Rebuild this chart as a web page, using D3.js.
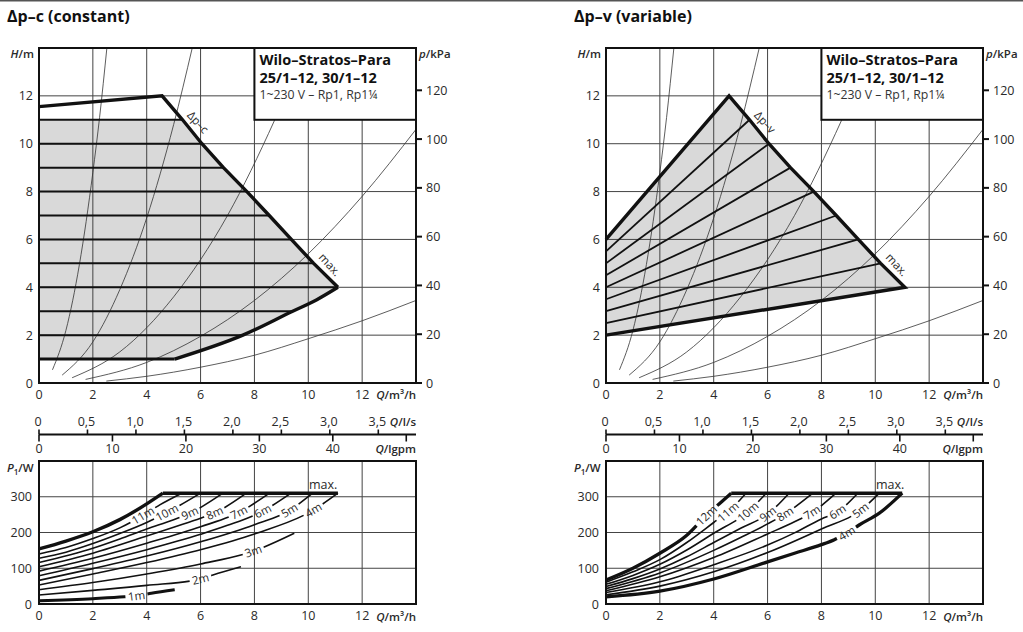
<!DOCTYPE html>
<html>
<head>
<meta charset="utf-8">
<script src="https://cdn.jsdelivr.net/npm/d3@7"></script>
<style>
  body { margin: 0; background: #fff; }
  svg { display: block; font-family: "Open Sans", sans-serif; }
</style>
</head>
<body>
<svg id="chart" width="1023" height="632"></svg>
<script>
/******************** DATA ********************/
var panelTitles = ["Δp–c (constant)", "Δp–v (variable)"];
var boxLines = ["Wilo–Stratos–Para", "25/1–12, 30/1–12", "1~230 V – Rp1, Rp1¼"];

var qTicks = [0, 2, 4, 6, 8, 10, 12];          // m³/h
var hTicks = [0, 2, 4, 6, 8, 10, 12];          // m
var kpaTicks = [0, 20, 40, 60, 80, 100, 120];  // kPa
var lsTicks = [0, 0.5, 1, 1.5, 2, 2.5, 3, 3.5];
var gpmTicks = [0, 10, 20, 30, 40, 50];
var pTicks = [0, 100, 200, 300];

// system curves (Q m³/h, H m), same in both panels
var sysCurves = [
  [[0.5, 0.55], [1, 2.2], [1.5, 4.95], [2, 8.8], [2.25, 11.1], [2.52, 14]],
  [[0.86, 0.33], [2, 1.72], [3, 3.9], [4, 6.9], [5, 10.8], [5.69, 14]],
  [[1.23, 0.22], [3, 1.3], [5, 3.6], [7, 7.0], [8.74, 10.96], [9.9, 14]],
  [[1.73, 0.15], [4, 0.86], [6, 1.95], [8, 3.45], [10, 5.4], [12, 7.8], [14, 10.6]],
  [[2.5, 0.08], [4, 0.28], [6, 0.66], [8, 1.16], [10, 1.85], [12, 2.6], [14, 3.45]]
];

// max. curve (diagonal), shared
var diag = [[4.57, 12], [5.33, 11], [6.05, 10], [6.85, 9], [7.72, 8], [8.55, 7], [9.37, 6], [10.2, 5], [11.1, 4]];

// Δp-c
var cTop = [[0, 11.55], [4.57, 12]];
var cLow = [[11.1, 4], [10.3, 3.47], [9.42, 3], [7.57, 2], [5.04, 1]];
var cBottom = [[5.04, 1], [0, 1]];
var cLevels = [11, 10, 9, 8, 7, 6, 5, 4, 3, 2];
var cLevelEnds = [5.33, 6.05, 6.85, 7.72, 8.55, 9.37, 10.2, 11.1, 9.42, 7.57];

// Δp-v
var vTop = [[0, 6], [4.57, 12]];
var vLow = [[11.1, 4], [0, 2]];
var vStartH = [5.5, 5, 4.5, 4, 3.5, 3, 2.5];
var vEndH = [11, 10, 9, 8, 7, 6, 5];

// power curves Δp-c (Q m³/h, P1 W)
var cPowerMaxRise = [[0, 154], [1, 176], [2, 202], [3, 236], [4, 280], [4.6, 310]];
var cPowerMaxFlat = [[4.6, 310], [11.1, 310]];
var cPowerNames = ["11m", "10m", "9m", "8m", "7m", "6m", "5m", "4m", "3m", "2m", "1m"];
var cPower = [
  [[0, 140], [1, 158], [2, 183], [3, 213], [3.86, 248], [4.5, 278], [5.3, 310]],
  [[0, 128], [1, 145], [2, 169], [3, 197], [4, 228], [4.75, 256], [6.0, 310]],
  [[0, 116], [2, 156], [3, 182], [4, 210], [5, 236], [5.6, 254], [6.83, 310]],
  [[0, 104], [2, 142], [4, 190], [5, 215], [6, 240], [6.52, 255], [7.7, 310]],
  [[0, 92], [2, 128], [4, 170], [6, 216], [7.42, 256], [8.56, 310]],
  [[0, 79], [2, 114], [4, 152], [6, 195], [7, 220], [8.31, 260], [9.36, 310]],
  [[0, 66], [2, 99], [4, 134], [6, 174], [8, 222], [9.3, 262], [10.16, 310]],
  [[0, 53], [2, 84], [4, 116], [6, 152], [8, 196], [10.19, 263], [11.1, 310]],
  [[0, 40], [2, 60], [4, 84], [6, 112], [7.96, 148], [9.48, 198]],
  [[0, 25], [2, 38], [4, 52], [6, 70], [6.46, 81], [7.5, 104]],
  [[0, 9], [2, 15], [3.17, 20], [3.62, 23], [4.17, 30], [5.04, 40]]
];
var cLabelQ = [3.86, 4.75, 5.6, 6.52, 7.42, 8.31, 9.3, 10.19, 7.96, 6.0, 3.62];

// power curves Δp-v
var vPowerMaxFlat = [[4.65, 310], [11.0, 310]];
var vPowerNames = ["12m", "11m", "10m", "9m", "8m", "7m", "6m", "5m", "4m"];
var vPower = [
  [[0, 67], [1, 100], [2, 142], [3, 192], [3.73, 248], [4.2, 280], [4.65, 310]],
  [[0, 61], [1, 90], [2, 124], [3, 172], [4, 228], [4.53, 258], [5.2, 310]],
  [[0, 55], [1, 80], [2, 111], [3, 151], [4, 198], [5.27, 258], [5.95, 310]],
  [[0, 49], [1, 71], [2, 98], [3, 132], [4, 172], [5, 212], [6.01, 252], [6.8, 310]],
  [[0, 43], [2, 87], [4, 150], [5, 186], [6, 224], [6.65, 252], [7.68, 310]],
  [[0, 37], [2, 76], [4, 130], [6, 196], [7, 230], [7.65, 256], [8.54, 310]],
  [[0, 32], [2, 62], [4, 110], [6, 165], [7, 199], [8, 238], [8.6, 258], [9.35, 310]],
  [[0, 26], [2, 50], [4, 90], [6, 144], [8, 210], [9.45, 262], [10.15, 310]],
  [[0, 20], [2, 36], [4, 70], [6, 118], [7, 142], [8, 166], [8.48, 180], [8.94, 198], [9.4, 221], [10.15, 254], [11.0, 310]]
];
var vLabelQ = [3.73, 4.53, 5.27, 6.01, 6.65, 7.65, 8.6, 9.45, 8.94];

/******************** LAYOUT ********************/
var panelX = [39, 606];
var plotW = 377;
var topY0 = 48, topY1 = 383;
var axisY = 434.5;
var botY0 = 461, botY1 = 604;
var INK = "#111", GRID = "#444", TXT = "#2a2a2a", FILL = "#d9d9d9";
var TICK = 12.5;

var svg = d3.select("#chart");

// thin rule at the very top
svg.append("rect").attr("x", 0).attr("y", 0).attr("width", 1023).attr("height", 1.5).attr("fill", "#555");

function unitLabel(g, x, y, anchor, italic, rest) {
  var t = g.append("text").attr("x", x).attr("y", y).attr("text-anchor", anchor)
    .attr("font-size", 11.5).attr("font-weight", 600).attr("fill", TXT);
  t.append("tspan").attr("font-style", "italic").text(italic);
  t.append("tspan").text(rest);
  return t;
}

// draw a curve with an inline label that breaks the stroke
function labelledCurve(g, lineGen, x, pts, width, label, labelQ) {
  var path = g.append("path").attr("d", lineGen(pts))
    .attr("fill", "none").attr("stroke", INK).attr("stroke-width", width);
  if (!label) return;
  var node = path.node(), total = node.getTotalLength();
  var tx = x(labelQ), lo = 0, hi = total;
  for (var k = 0; k < 40; k++) {
    var mid = (lo + hi) / 2;
    if (node.getPointAtLength(mid).x < tx) lo = mid; else hi = mid;
  }
  var s = (lo + hi) / 2, p = node.getPointAtLength(s);
  var p1 = node.getPointAtLength(Math.max(0, s - 4)), p2 = node.getPointAtLength(Math.min(total, s + 4));
  var ang = Math.atan2(p2.y - p1.y, p2.x - p1.x) * 180 / Math.PI;
  var t = g.append("text")
    .attr("transform", "translate(" + p.x + "," + p.y + ") rotate(" + ang + ")")
    .attr("text-anchor", "middle").attr("dy", "0.36em")
    .attr("font-size", 11.5).attr("fill", TXT).text(label);
  var w = t.node().getComputedTextLength() + 5;
  path.attr("stroke-dasharray", (s - w / 2) + " " + w + " " + (total + 10));
}

function panel(i) {
  var x0 = panelX[i], x1 = x0 + plotW;
  var g = svg.append("g");

  var x = d3.scaleLinear().domain([0, 14]).range([x0, x1]);
  var y = d3.scaleLinear().domain([0, 14]).range([topY1, topY0]);
  var yk = d3.scaleLinear().domain([0, 14 * 9.81]).range([topY1, topY0]);
  var xls = d3.scaleLinear().domain([0, 14 / 3.6]).range([x0, x1]);
  var xgpm = d3.scaleLinear().domain([0, 14 / 0.27277]).range([x0, x1]);
  var yp = d3.scaleLinear().domain([0, 400]).range([botY1, botY0]);

  var lineH = d3.line().x(function (d) { return x(d[0]); }).y(function (d) { return y(d[1]); });
  var smoothH = d3.line().curve(d3.curveMonotoneX).x(function (d) { return x(d[0]); }).y(function (d) { return y(d[1]); });
  var smoothP = d3.line().curve(d3.curveMonotoneX).x(function (d) { return x(d[0]); }).y(function (d) { return yp(d[1]); });

  // title
  g.append("text").attr("x", x0 - 32).attr("y", 22).attr("font-size", 16).attr("font-weight", 700)
    .attr("fill", "#111").text(panelTitles[i]);

  /* ---------- top chart: H(Q) ---------- */
  var clipId = "clipTop" + i;
  g.append("clipPath").attr("id", clipId).append("rect")
    .attr("x", x0).attr("y", topY0).attr("width", plotW).attr("height", topY1 - topY0);

  var hQ = d3.scaleLinear().domain(diag.map(function (d) { return d[1]; })).range(diag.map(function (d) { return d[0]; }));

  // shaded operating range
  var poly;
  if (i === 0) {
    poly = [[0, 11], [hQ(11), 11]].concat(diag.filter(function (d) { return d[1] < 11; }))
      .concat(cLow.slice(1)).concat(cBottom.slice(1));
  } else {
    poly = [[0, 2]].concat(vTop).concat(diag.slice(1));
  }
  g.append("path").attr("d", lineH(poly) + "Z").attr("fill", FILL);

  // grid
  g.selectAll(null).data(qTicks.slice(1)).enter().append("line")
    .attr("x1", function (d) { return x(d); }).attr("x2", function (d) { return x(d); })
    .attr("y1", topY0).attr("y2", topY1).attr("stroke", GRID).attr("stroke-width", 1);
  g.selectAll(null).data(hTicks.slice(1)).enter().append("line")
    .attr("x1", x0).attr("x2", x1)
    .attr("y1", function (d) { return y(d); }).attr("y2", function (d) { return y(d); })
    .attr("stroke", GRID).attr("stroke-width", 1);

  // system curves
  g.append("g").attr("clip-path", "url(#" + clipId + ")")
    .selectAll(null).data(sysCurves).enter().append("path")
    .attr("d", smoothH).attr("fill", "none").attr("stroke", "#333").attr("stroke-width", 0.8);

  // control lines
  if (i === 0) {
    cLevels.forEach(function (h, k) {
      g.append("path").attr("d", lineH([[0, h], [cLevelEnds[k], h]]))
        .attr("stroke", INK).attr("stroke-width", 2);
    });
    g.append("path").attr("d", lineH(cTop.concat(diag.slice(1))))
      .attr("fill", "none").attr("stroke", INK).attr("stroke-width", 3.4).attr("stroke-linejoin", "miter");
    g.append("path").attr("d", smoothH(cLow))
      .attr("fill", "none").attr("stroke", INK).attr("stroke-width", 3.4);
    g.append("path").attr("d", lineH(cBottom))
      .attr("fill", "none").attr("stroke", INK).attr("stroke-width", 3);
  } else {
    vStartH.forEach(function (h, k) {
      g.append("path").attr("d", lineH([[0, h], [hQ(vEndH[k]), vEndH[k]]]))
        .attr("stroke", INK).attr("stroke-width", 1.8);
    });
    g.append("path").attr("d", lineH(vTop.concat(diag.slice(1)).concat(vLow.slice(1))))
      .attr("fill", "none").attr("stroke", INK).attr("stroke-width", 3.4).attr("stroke-linejoin", "miter");
  }

  // labels along the max. line
  var a = Math.atan2(y(diag[diag.length - 1][1]) - y(diag[0][1]), x(diag[diag.length - 1][0]) - x(diag[0][0]));
  var ux = Math.sin(a), uy = -Math.cos(a);
  [[i === 0 ? "Δp–c" : "Δp–v", 10.6], ["max.", 4.65]].forEach(function (lb) {
    var px = x(hQ(lb[1])) + ux * 10.5, py = y(lb[1]) + uy * 10.5;
    g.append("text").attr("transform", "translate(" + px + "," + py + ") rotate(" + (a * 180 / Math.PI) + ")")
      .attr("text-anchor", "middle").attr("dy", "0.36em").attr("font-size", 11.5).attr("fill", TXT).text(lb[0]);
  });

  // title box
  g.append("rect").attr("x", x(8)).attr("y", y(14)).attr("width", x(14) - x(8)).attr("height", y(11) - y(14))
    .attr("fill", "#fff").attr("stroke", INK).attr("stroke-width", 2);
  g.append("text").attr("x", x(8) + 5).attr("y", 65).attr("font-size", 14.5).attr("font-weight", 700).attr("fill", "#111").text(boxLines[0]);
  g.append("text").attr("x", x(8) + 5).attr("y", 83).attr("font-size", 14.5).attr("font-weight", 700).attr("fill", "#111").text(boxLines[1]);
  g.append("text").attr("x", x(8) + 5).attr("y", 99).attr("font-size", 12.3).attr("fill", "#333").text(boxLines[2]);

  // frame
  g.append("rect").attr("x", x0).attr("y", topY0).attr("width", plotW).attr("height", topY1 - topY0)
    .attr("fill", "none").attr("stroke", INK).attr("stroke-width", 2);

  // axes text
  g.selectAll(null).data(hTicks).enter().append("text")
    .attr("x", x0 - 6).attr("y", function (d) { return y(d); }).attr("dy", "0.36em")
    .attr("text-anchor", "end").attr("font-size", TICK).attr("fill", TXT).text(function (d) { return d; });
  g.selectAll(null).data(kpaTicks).enter().append("line")
    .attr("x1", x1).attr("x2", x1 + 6)
    .attr("y1", function (d) { return yk(d); }).attr("y2", function (d) { return yk(d); })
    .attr("stroke", INK).attr("stroke-width", 2);
  g.selectAll(null).data(kpaTicks).enter().append("text")
    .attr("x", x1 + 10).attr("y", function (d) { return yk(d); }).attr("dy", "0.36em")
    .attr("font-size", TICK).attr("fill", TXT).text(function (d) { return d; });
  g.selectAll(null).data(qTicks).enter().append("text")
    .attr("x", function (d) { return x(d); }).attr("y", 398.5)
    .attr("text-anchor", "middle").attr("font-size", TICK).attr("fill", TXT).text(function (d) { return d; });
  unitLabel(g, x0 - 5, 58, "end", "H", "/m");
  unitLabel(g, x1 + 3, 58, "start", "p", "/kPa");
  unitLabel(g, x1, 398.5, "end", "Q", "/m³/h");

  /* ---------- Q scales ---------- */
  g.append("line").attr("x1", x0).attr("x2", x1).attr("y1", axisY).attr("y2", axisY)
    .attr("stroke", INK).attr("stroke-width", 2);
  g.selectAll(null).data(lsTicks).enter().append("line")
    .attr("x1", function (d) { return xls(d); }).attr("x2", function (d) { return xls(d); })
    .attr("y1", axisY).attr("y2", axisY - 5).attr("stroke", INK).attr("stroke-width", 1.6);
  g.selectAll(null).data(gpmTicks).enter().append("line")
    .attr("x1", function (d) { return xgpm(d); }).attr("x2", function (d) { return xgpm(d); })
    .attr("y1", axisY).attr("y2", axisY + 7).attr("stroke", INK).attr("stroke-width", 1.6);
  g.selectAll(null).data(lsTicks).enter().append("text")
    .attr("x", function (d) { return xls(d) - 1; }).attr("y", 426)
    .attr("text-anchor", "middle").attr("font-size", TICK).attr("fill", TXT)
    .text(function (d) { return d === 0 ? "0" : d.toFixed(1).replace(".", ","); });
  g.selectAll(null).data(gpmTicks.slice(0, -1)).enter().append("text")
    .attr("x", function (d) { return xgpm(d); }).attr("y", 453)
    .attr("text-anchor", "middle").attr("font-size", TICK).attr("fill", TXT).text(function (d) { return d; });
  unitLabel(g, x1, 426, "end", "Q", "/l/s");
  unitLabel(g, x1, 453, "end", "Q", "/lgpm");

  /* ---------- bottom chart: P1(Q) ---------- */
  g.selectAll(null).data(qTicks.slice(1)).enter().append("line")
    .attr("x1", function (d) { return x(d); }).attr("x2", function (d) { return x(d); })
    .attr("y1", botY0).attr("y2", botY1).attr("stroke", GRID).attr("stroke-width", 1);
  g.selectAll(null).data(pTicks.slice(1)).enter().append("line")
    .attr("x1", x0).attr("x2", x1)
    .attr("y1", function (d) { return yp(d); }).attr("y2", function (d) { return yp(d); })
    .attr("stroke", GRID).attr("stroke-width", 1);

  var pg = g.append("g");
  if (i === 0) {
    pg.append("path").attr("d", smoothP(cPowerMaxRise)).attr("fill", "none").attr("stroke", INK).attr("stroke-width", 3.4);
    pg.append("path").attr("d", smoothP(cPowerMaxFlat)).attr("fill", "none").attr("stroke", INK).attr("stroke-width", 3.4);
    cPower.forEach(function (pts, k) {
      labelledCurve(pg, smoothP, x, pts, cPowerNames[k] === "1m" ? 3 : 1.6, cPowerNames[k], cLabelQ[k]);
    });
  } else {
    pg.append("path").attr("d", smoothP(vPowerMaxFlat)).attr("fill", "none").attr("stroke", INK).attr("stroke-width", 3.4);
    vPower.forEach(function (pts, k) {
      var thick = (k === 0 || k === vPower.length - 1);
      labelledCurve(pg, smoothP, x, pts, thick ? 3.3 : 1.6, vPowerNames[k], vLabelQ[k]);
    });
  }
  g.append("text").attr("x", x(10.55)).attr("y", yp(323)).attr("text-anchor", "middle")
    .attr("font-size", TICK).attr("fill", TXT).text("max.");

  g.append("rect").attr("x", x0).attr("y", botY0).attr("width", plotW).attr("height", botY1 - botY0)
    .attr("fill", "none").attr("stroke", INK).attr("stroke-width", 2);

  g.selectAll(null).data(pTicks).enter().append("text")
    .attr("x", x0 - 7).attr("y", function (d) { return yp(d); }).attr("dy", "0.36em")
    .attr("text-anchor", "end").attr("font-size", TICK).attr("fill", TXT).text(function (d) { return d; });
  g.selectAll(null).data(qTicks).enter().append("text")
    .attr("x", function (d) { return x(d); }).attr("y", 619.5)
    .attr("text-anchor", "middle").attr("font-size", TICK).attr("fill", TXT).text(function (d) { return d; });
  unitLabel(g, x1, 620.5, "end", "Q", "/m³/h");

  var pl = g.append("text").attr("x", x0 - 32).attr("y", 472).attr("font-size", 11.5).attr("font-weight", 600).attr("fill", TXT);
  pl.append("tspan").attr("font-style", "italic").text("P");
  pl.append("tspan").attr("font-size", 8).attr("dy", 3).text("1");
  pl.append("tspan").attr("dy", -3).text("/W");
}

panel(0);
panel(1);
</script>
</body>
</html>
